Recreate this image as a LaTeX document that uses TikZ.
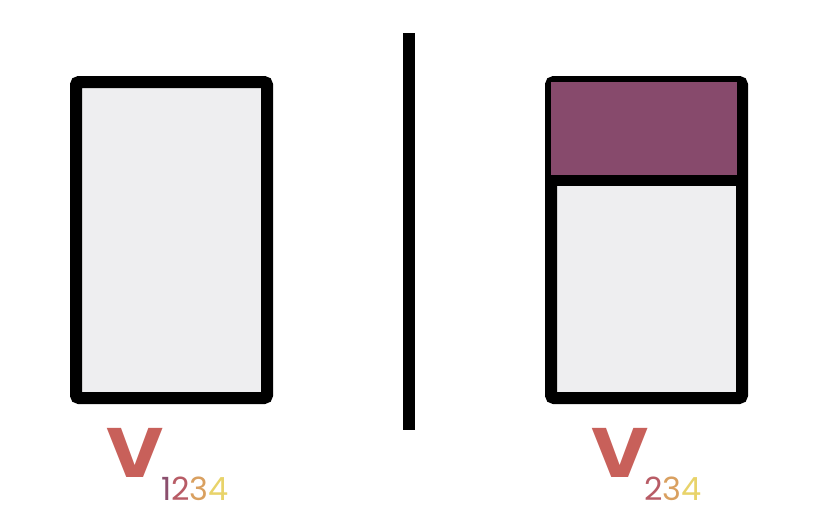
\documentclass[tikz,border=0pt]{standalone}
\usepackage{fontspec}
\newfontfamily\pop{Poppins}
\definecolor{boxfill}{HTML}{EEEEF0}
\definecolor{plum}{HTML}{874A6C}
\definecolor{vred}{HTML}{C8605A}
\definecolor{dOne}{HTML}{8B4F6E}
\definecolor{dTwo}{HTML}{B85C66}
\definecolor{dThree}{HTML}{D9A060}
\definecolor{dFour}{HTML}{E8D36A}
\begin{document}
\begin{tikzpicture}[x=1pt,y=-1pt,
  container/.style={draw=black,line width=12pt,fill=boxfill,rounded corners=3pt,inner sep=0pt,minimum width=191pt,minimum height=316pt},
  vletter/.style={text=vred,font=\pop\bfseries\fontsize{70}{70}\selectfont,inner sep=0pt,anchor=base west},
  subs/.style={font=\pop\fontsize{32}{32}\selectfont,inner sep=0pt,anchor=base west}]
\useasboundingbox (0,0) rectangle (822,531);
% left box
\node[container] (left) at (171.5,240) {};
% right box
\node[container] (right) at (646.5,240) {};
\fill[plum] (right.north west) ++(5.5,5.5) rectangle (736.5,181);
\draw[line width=11pt] (right.west |- 0,180.5) -- (right.east |- 0,180.5);
% separator
\coordinate (st) at (409,33);
\coordinate (sb) at (409,430);
\draw[line width=11.5pt] (st) -- (sb);
% labels
\node[vletter] (v1) at (106,477) {\scalebox{1.12}[1]{V}};
\node[subs] (s1) at (161,500) {\textcolor{dOne}{1}\textcolor{dTwo}{2}\textcolor{dThree}{3}\textcolor{dFour}{4}};
\node[vletter] (v2) at (591,477) {\scalebox{1.12}[1]{V}};
\node[subs] (s2) at (644,500) {\textcolor{dTwo}{2}\textcolor{dThree}{3}\textcolor{dFour}{4}};
\end{tikzpicture}
\end{document}
